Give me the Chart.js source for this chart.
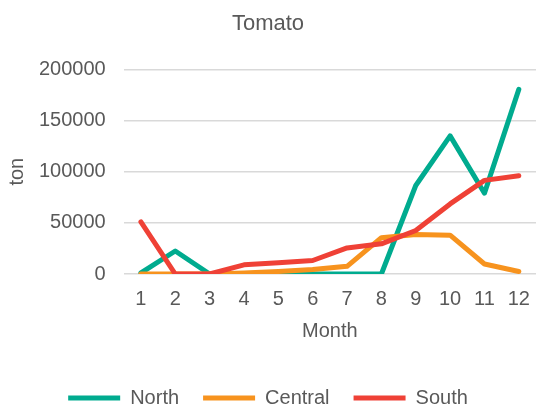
<!DOCTYPE html>
<html>
<head>
<meta charset="utf-8">
<script src="https://cdn.jsdelivr.net/npm/chart.js@4"></script>
<style>
  html, body { margin: 0; padding: 0; background: #fff; }
  #wrap { width: 536px; height: 406px; }
</style>
</head>
<body>
<div id="wrap"><canvas id="myChart"></canvas></div>
<script>
// data
const months = ['1', '2', '3', '4', '5', '6', '7', '8', '9', '10', '11', '12'];
const north = [1000, 22500, 0, 0, 0, 0, 0, 0, 86500, 135000, 79000, 180500];
const central = [0, 0, 0, 1000, 2500, 4300, 7500, 35500, 38500, 38000, 9800, 2500];
const south = [51000, 0, 0, 9000, 11000, 13200, 25500, 29500, 42500, 68500, 91500, 96000];
const yTicks = [0, 50000, 100000, 150000, 200000];

const textColor = '#595959';
const fontFamily = '"Liberation Sans", Arial, sans-serif';

function line(label, data, color, order) {
  return {
    label: label,
    data: data,
    borderColor: color,
    backgroundColor: color,
    borderWidth: 5,
    borderCapStyle: 'round',
    borderJoinStyle: 'round',
    pointRadius: 0,
    tension: 0,
    order: order
  };
}

const ctx = document.getElementById('myChart').getContext('2d');
const chart = new Chart(ctx, {
  type: 'line',
  data: {
    labels: months,
    datasets: [
      line('North', north, '#00AB8F', 2),
      line('Central', central, '#F7931E', 1),
      line('South', south, '#EF4136', 0)
    ]
  },
  options: {
    responsive: true,
    maintainAspectRatio: false,
    animation: false,
    layout: { padding: { left: 0, right: 0, top: 0, bottom: -12 } },
    plugins: {
      title: {
        display: true,
        text: 'Tomato',
        color: textColor,
        font: { family: fontFamily, size: 22, weight: 'normal' },
        padding: { top: 11, bottom: 32 }
      },
      legend: {
        position: 'bottom',
        labels: {
          color: textColor,
          font: { family: fontFamily, size: 20 },
          usePointStyle: true,
          pointStyle: 'line',
          pointStyleWidth: 52,
          boxHeight: 20,
          padding: 24,
          sort: (a, b) => a.datasetIndex - b.datasetIndex
        }
      },
      tooltip: { enabled: false }
    },
    scales: {
      x: {
        offset: true,
        grid: { display: false },
        border: { display: false },
        ticks: {
          color: textColor,
          font: { family: fontFamily, size: 20 },
          padding: 5,
          maxRotation: 0
        },
        title: {
          display: true,
          text: 'Month',
          color: textColor,
          font: { family: fontFamily, size: 20 },
          padding: { top: 3, bottom: 21 }
        }
      },
      y: {
        min: 0,
        max: 200000,
        afterBuildTicks: axis => { axis.ticks = yTicks.map(v => ({ value: v })); },
        grid: { color: '#D9D9D9', lineWidth: 1.5, drawTicks: false },
        border: { display: false },
        ticks: {
          color: textColor,
          font: { family: fontFamily, size: 20 },
          padding: 18,
          callback: v => String(v)
        },
        title: {
          display: true,
          text: 'ton',
          color: textColor,
          font: { family: fontFamily, size: 20 },
          padding: { top: 5, bottom: -8 }
        }
      }
    }
  }
});
</script>
</body>
</html>
